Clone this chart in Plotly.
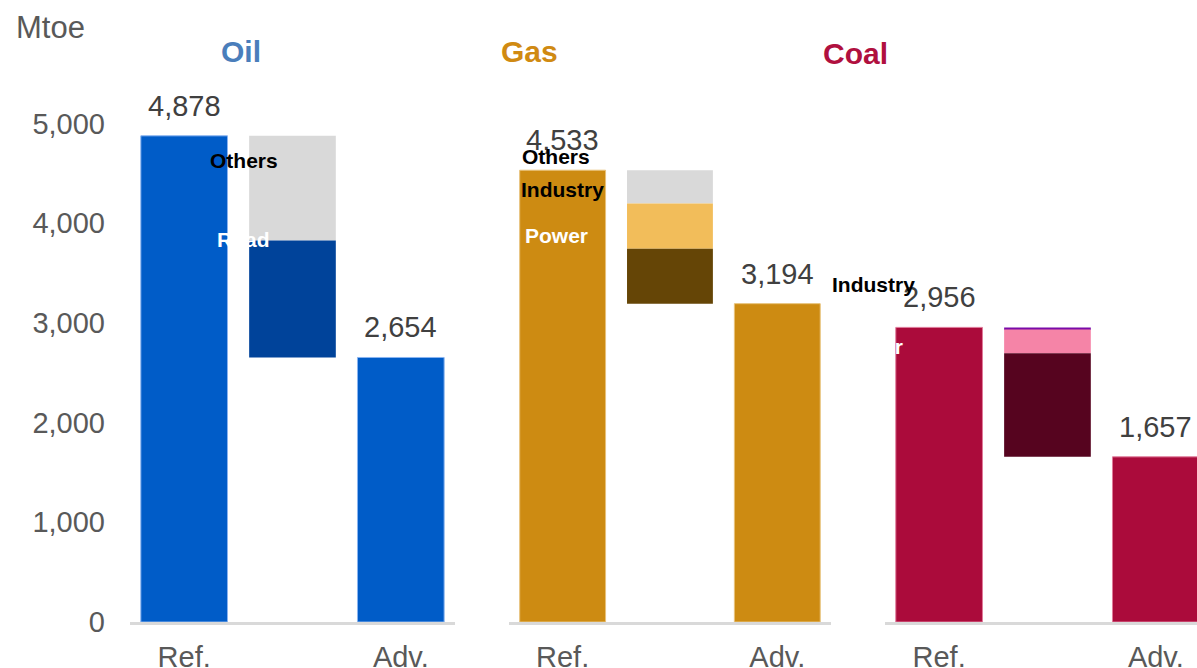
import plotly.graph_objects as go

# Categories along each panel's x axis
categories = ["Ref.", "Change", "Adv."]
tick_text = ["Ref.", "", "Adv."]

fuels = ["Oil", "Gas", "Coal"]
ref_values = [4878, 4533, 2956]
adv_values = [2654, 3194, 1657]

# Reductions from Ref. to Adv., listed from the top of the step downwards
oil_segments = ["Others", "Road"]
oil_reductions = [1050, 1174]
gas_segments = ["Others", "Industry", "Power"]
gas_reductions = [335, 453, 551]
coal_segments = ["Others", "Industry", "Power"]
coal_reductions = [20, 240, 1039]

y_ticks = [0, 1000, 2000, 3000, 4000, 5000]

segments = {"Oil": (oil_segments, oil_reductions),
            "Gas": (gas_segments, gas_reductions),
            "Coal": (coal_segments, coal_reductions)}

fuel_color = {"Oil": "#005CC8", "Gas": "#CD8B12", "Coal": "#AB0B3B"}
fuel_edge = {"Oil": "#8AB4F0", "Gas": "#E8C27A", "Coal": "#E07A9A"}
title_color = {"Oil": "#4A7EBB", "Gas": "#D08A12", "Coal": "#B0103F"}
segment_color = {
    "Oil": {"Others": "#D9D9D9", "Road": "#00439A"},
    "Gas": {"Others": "#D9D9D9", "Industry": "#F2BD5A", "Power": "#654506"},
    "Coal": {"Others": "#7A0AA8", "Industry": "#F584A7", "Power": "#56041F"},
}

axis_names = {"Oil": "x", "Gas": "x2", "Coal": "x3"}
domains = {"Oil": [0.1086, 0.3801], "Gas": [0.4252, 0.6942], "Coal": [0.7393, 1.0]}
x_ranges = {"Oil": [-0.5, 2.5], "Gas": [-0.5, 2.5], "Coal": [-0.5, 2.38]}

FONT = "Liberation Sans, Arial"
fig = go.Figure()
annotations = []
BAR_W = 0.8

for fuel, ref, adv in zip(fuels, ref_values, adv_values):
    xa = axis_names[fuel]
    # Ref. and Adv. totals
    fig.add_trace(go.Bar(
        x=[categories[0], categories[2]], y=[ref, adv], width=BAR_W,
        xaxis=xa, yaxis="y",
        marker=dict(color=fuel_color[fuel], line=dict(color=fuel_edge[fuel], width=1)),
        showlegend=False, hoverinfo="x+y"))
    # waterfall step made of the sector reductions
    names, vals = segments[fuel]
    top = ref
    for name, v in zip(names, vals):
        fig.add_trace(go.Bar(
            x=[categories[1]], y=[v], base=[top - v], width=BAR_W,
            xaxis=xa, yaxis="y", name=name,
            marker=dict(color=segment_color[fuel][name], line=dict(width=0)),
            showlegend=False, hoverinfo="name+y"))
        top -= v
    # total value labels
    for cat, val in ((categories[0], ref), (categories[2], adv)):
        annotations.append(dict(
            x=cat, y=val, xref=xa, yref="y", text=f"{val:,}", showarrow=False,
            xanchor="center", yanchor="middle", yshift=30,
            font=dict(family=FONT, size=29, color="#404040")))

# sector labels (x position, pixel nudge, y position)
lab_font_dark = dict(family=FONT, size=21, color="#000000")
lab_font_light = dict(family=FONT, size=21, color="#FFFFFF")
sector_labels = [
    ("x", 0.55, 0, 4628, "Others", lab_font_dark),
    ("x", 0.55, 0, 3835, "Road", lab_font_light),
    ("x2", -0.06, 0, 4669, "Others", lab_font_dark),
    ("x2", 0.0, 0, 4337, "Industry", lab_font_dark),
    ("x2", -0.06, 0, 3876, "Power", lab_font_light),
    ("x3", -0.5, -11, 3384, "Industry", lab_font_dark),
    ("x3", -0.5, -13, 2761, "Power", lab_font_light),
]
for xa, xv, dx, yv, txt, fnt in sector_labels:
    annotations.append(dict(x=xv, y=yv, xref=xa, yref="y", xshift=dx, text=f"<b>{txt}</b>",
                            showarrow=False, xanchor="center", yanchor="middle", font=fnt))

# panel titles
for fuel, xpx, ypx in (("Oil", 241, 52), ("Gas", 529, 52), ("Coal", 855, 54)):
    annotations.append(dict(x=xpx / 1197, y=(622 - ypx) / 598, xref="paper", yref="paper",
                            text=f"<b>{fuel}</b>", showarrow=False,
                            xanchor="center", yanchor="middle",
                            font=dict(family=FONT, size=30, color=title_color[fuel])))

annotations.append(dict(x=50 / 1197, y=(622 - 28) / 598, xref="paper", yref="paper",
                        text="Mtoe", showarrow=False, xanchor="center", yanchor="middle",
                        font=dict(family=FONT, size=31, color="#595959")))

layout = dict(
    width=1197, height=668,
    margin=dict(l=0, r=0, t=24, b=46, autoexpand=False),
    paper_bgcolor="white", plot_bgcolor="white",
    barmode="overlay",
    annotations=annotations,
    yaxis=dict(range=[0, 6000], tickvals=y_ticks, tickformat=",", showgrid=False,
               zeroline=False, showline=False, ticks="", anchor="x",
               ticklabelstandoff=24, automargin=False,
               tickfont=dict(family=FONT, size=29, color="#595959")),
)
for fuel in fuels:
    key = "xaxis" if axis_names[fuel] == "x" else "xaxis" + axis_names[fuel][1:]
    layout[key] = dict(
        domain=domains[fuel], anchor="y", type="category",
        categoryorder="array", categoryarray=categories,
        range=x_ranges[fuel], tickvals=categories, ticktext=tick_text,
        showline=True, linecolor="#D9D9D9", linewidth=3, showgrid=False,
        zeroline=False, ticks="", ticklabelstandoff=7, automargin=False,
        tickfont=dict(family=FONT, size=29, color="#595959"))

fig.update_layout(**layout)
fig.write_html("out.html")
